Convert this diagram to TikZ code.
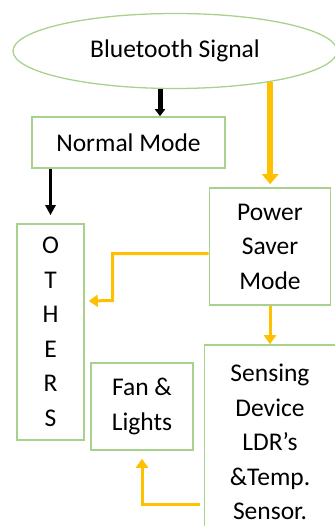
\documentclass[tikz,border=0pt]{standalone}
\usepackage{fontspec}
\setmainfont{Carlito}
\usetikzlibrary{arrows.meta,calc,positioning,shapes.geometric}
\definecolor{LineGreen}{HTML}{A9D18E}
\definecolor{Amber}{HTML}{FFC000}
\tikzset{block/.style={draw=LineGreen,line width=1.6pt,align=center,inner sep=0pt},signal/.style={ellipse,draw=LineGreen,line width=1.3pt,inner sep=0pt},fatblack/.style={-{Triangle[length=7pt,width=10pt]},line width=5pt,draw=black},fatamber/.style={-{Triangle[length=10pt,width=16pt]},line width=6pt,draw=Amber},thinblack/.style={-{Triangle[length=10pt,width=10pt]},line width=2.5pt,draw=black},thinamber/.style={-{Triangle[length=9pt,width=12pt]},line width=3pt,draw=Amber}}
\begin{document}
\begin{tikzpicture}[x=1pt,y=-1pt,every node/.style={font=\fontsize{25.5}{34.5}\selectfont}]
      \useasboundingbox (0,0) rectangle (334,526);
      \node[signal,minimum width=324pt,minimum height=75pt](bt) at (175,51){Bluetooth Signal};
      \node[block,minimum width=193pt,minimum height=51pt](normal) at (128.5,142.5){Normal Mode};
      \node[block,minimum width=67pt,minimum height=216pt](others) at (50.5,332){O\\T\\H\\E\\R\\S};
      \node[block,minimum width=121pt,minimum height=117pt](power) at (270,246.5){Power\\Saver\\Mode};
      \node[block,minimum width=131pt,minimum height=194pt](sensing) at (270,442){Sensing\\Device\\LDR’s\\\&Temp.\\Sensor.};
      \node[block,minimum width=102pt,minimum height=87pt](fan) at (142,406.5){Fan \&\\Lights};
      % arrows
      \draw[fatblack](bt.south -| 160,0)--(normal.north -| 160,0);
      \draw[fatamber](bt.-18)--([yshift=3pt]bt.-18 |- power.north);
      \draw[thinblack](normal.south -| others.north)--([yshift=8pt]others.north);
      \draw[thinamber]([yshift=-7pt]power.west)-|++(-96,47)--([xshift=4pt,yshift=31pt]others.east);
      \draw[thinamber](power.south)--(power.south |- sensing.north);
      \draw[thinamber]([yshift=-62pt,xshift=-4pt]sensing.west)-|([yshift=-8pt]fan.south);
    \end{tikzpicture}
\end{document}
